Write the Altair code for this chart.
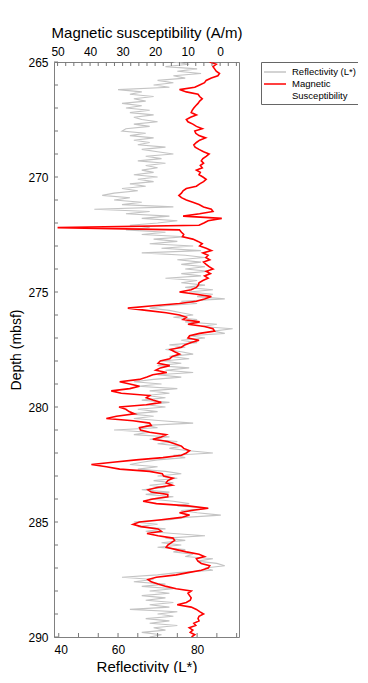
import altair as alt
import pandas as pd

# ---------------- data ----------------
depth_top = 265.0
depth_step = 0.1

# Reflectivity L* every 0.1 m from 265.0 to 290.0
reflectivity = [
    74, 78, 72, 80, 75, 81, 74, 77, 70, 74,   # 265
    69, 73, 60, 66, 63, 69, 64, 67, 61, 66,   # 266
    62, 68, 63, 69, 64, 66, 70, 64, 68, 62,   # 267
    61, 67, 63, 69, 64, 68, 65, 72, 66, 70,   # 268
    74, 67, 71, 65, 72, 67, 70, 66, 69, 64,   # 269
    70, 65, 69, 63, 67, 61, 65, 59, 56, 63,   # 270
    59, 66, 61, 74, 54, 68, 62, 73, 66, 75,   # 271
    70, 63, 68, 62, 72, 66, 77, 69, 75, 68,   # 272
    79, 71, 81, 66, 77, 82, 75, 81, 76, 82,   # 273
    77, 83, 76, 81, 72, 80, 76, 82, 77, 84,   # 274
    78, 84, 80, 87, 76, 80, 72, 68, 73, 76,   # 275
    79, 74, 80, 77, 85, 81, 89, 84, 87, 78,   # 276
    82, 76, 80, 73, 77, 72, 76, 79, 73, 78,   # 277
    71, 76, 70, 78, 72, 79, 70, 76, 69, 64,   # 278
    71, 65, 75, 68, 73, 67, 72, 66, 73, 67,   # 279
    72, 65, 70, 63, 69, 64, 71, 79, 67, 70,   # 280
    59, 68, 64, 73, 68, 75, 70, 76, 73, 78,   # 281
    84, 74, 77, 70, 66, 63, 70, 65, 72, 76,   # 282
    70, 75, 69, 74, 68, 72, 66, 73, 67, 74,   # 283
    68, 74, 78, 75, 83, 76, 80, 86, 77, 73,   # 284
    64, 70, 65, 72, 67, 74, 82, 72, 77, 71,   # 285
    76, 70, 77, 74, 79, 77, 84, 80, 85, 87,   # 286
    82, 84, 75, 70, 61, 69, 64, 72, 66, 74,   # 287
    68, 73, 66, 72, 67, 74, 68, 73, 63, 75,   # 288
    70, 74, 67, 73, 68, 75, 69, 72, 66, 71,   # 289
    68,                                       # 290
]

# Magnetic susceptibility (A/m) every 0.1 m from 265.0 to 290.0
mag_susceptibility = [
    3.2, 1.2, 2.2, 1.7, 1.2, 0.2, 0.7, 2.7, 4.3, 4.8,          # 265
    6.3, 7.8, 12.5, 10.4, 6.8, 6.3, 5.5, 6.3, 6.8, 7.5,        # 266
    8.1, 8.6, 8.9, 7.3, 9.1, 10.4, 9.9, 8.4, 7.3, 5.5,         # 267
    7.8, 7.5, 6.5, 4.5, 6.3, 7.3, 8.1, 7.7, 6.5, 5.1,          # 268
    3.4, 4.3, 5.3, 5.8, 5.1, 6.1, 5.5, 7.3, 6.1, 6.5,          # 269
    5.3, 4.3, 5.1, 6.3, 7.3, 10.4, 11.4, 11.9, 12.7, 11.9,     # 270
    10.4, 8.4, 6.5, 5.1, 2.7, 2.2, 6.3, 11.4, -0.5, 3.7,       # 271
    5.0, 6.5, 50.0, 12.5, 11.9, 11.2, 11.6, 8.4, 6.8, 5.5,     # 272
    6.3, 4.3, 2.7, 5.3, 3.7, 4.4, 3.2, 5.1, 4.3, 3.4,          # 273
    2.2, 4.3, 3.0, 4.8, 3.7, 5.3, 6.5, 6.7, 7.3, 8.9,          # 274
    12.5, 7.3, 2.7, 4.8, 7.3, 12.5, 20.7, 28.4, 22.7, 16.6,    # 275
    12.5, 10.4, 11.4, 6.3, 9.9, 4.8, 2.2, 1.7, 6.3, 9.4,       # 276
    9.9, 6.5, 8.9, 10.9, 11.9, 15.3, 14.0, 12.5, 14.7, 15.5,   # 277
    18.4, 19.1, 15.5, 18.4, 19.8, 16.4, 20.7, 22.5, 24.8, 30.9,  # 278
    27.8, 24.8, 27.8, 33.5, 30.4, 21.7, 22.7, 20.7, 18.1, 22.7,  # 279
    31.1, 29.0, 28.0, 26.3, 31.9, 35.0, 26.8, 21.7, 21.2, 24.8,  # 280
    24.5, 21.7, 16.6, 18.1, 20.7, 16.1, 14.0, 11.9, 11.2, 9.4,   # 281
    10.4, 11.9, 17.6, 25.8, 33.0, 39.6, 35.0, 30.9, 21.7, 17.8,  # 282
    17.4, 14.5, 16.1, 16.6, 14.7, 19.4, 22.2, 21.2, 16.1, 16.1,  # 283
    20.7, 23.7, 19.6, 9.9, 3.7, 8.9, 12.5, 9.4, 11.9, 18.1,      # 284
    24.8, 26.8, 24.3, 19.1, 18.1, 22.5, 19.1, 14.5, 14.0, 15.0,  # 285
    16.1, 16.6, 13.5, 10.4, 6.5, 4.8, 7.3, 6.8, 5.8, 3.2,        # 286
    3.7, 5.8, 9.9, 13.5, 19.6, 22.2, 21.2, 19.1, 16.6, 13.5,     # 287
    8.9, 9.9, 9.4, 8.9, 9.2, 10.4, 13.2, 8.9, 7.3, 6.3,          # 288
    5.1, 6.5, 6.8, 6.5, 8.1, 7.5, 9.5, 8.4, 9.2, 7.8,            # 289
    8.8,                                                          # 290
]

depth_domain = [265, 290]
depth_labels = [265, 270, 275, 280, 285, 290]
depth_ticks = list(range(265, 291))
refl_domain = [43.8, 90.6]
refl_labels = [43.8, 60, 80]
refl_ticks = [45, 50, 55, 60, 65, 70, 75, 80, 85, 90]
ms_domain = [-5.8, 51.1]
ms_labels = [50, 40, 30, 20, 10, 0]
ms_ticks = [50, 47.5, 45, 42.5, 40, 37.5, 35, 32.5, 30, 27.5, 25, 22.5, 20,
            17.5, 15, 12.5, 10, 7.5, 5, 2.5, 0, -2.5, -5]

REFL = "Reflectivity (L*)"
MS = "Magnetic Susceptibility"

# ---------------- chart ----------------
FONT = "Liberation Sans"
W, H = 185, 575
TICK_COLOR = "#777777"
TL = 4

n = len(reflectivity)
depth = [round(depth_top + i * depth_step, 2) for i in range(n)]
df_refl = pd.DataFrame({"depth": depth, "refl": reflectivity, "series": REFL})
df_ms = pd.DataFrame({"depth": depth[:len(mag_susceptibility)],
                      "ms": mag_susceptibility, "series": MS})

y_scale = alt.Scale(domain=depth_domain, reverse=True, nice=False, zero=False)
refl_scale = alt.Scale(domain=refl_domain, nice=False, zero=False)
ms_scale = alt.Scale(domain=ms_domain, reverse=True, nice=False, zero=False)
color_scale = alt.Scale(domain=[REFL, MS], range=["#c4c4c4", "#ff0000"])

common_axis = dict(domain=False, ticks=False, grid=False, labelFont=FONT,
                   titleFont=FONT, labelColor="black", titleColor="black",
                   titleFontWeight="normal")

y_enc = alt.Y("depth:Q", scale=y_scale,
              axis=alt.Axis(values=depth_labels, title="Depth (mbsf)",
                            labelFontSize=12, titleFontSize=14, labelPadding=6,
                            titlePadding=4, labelFlush=False, **common_axis))

legend = alt.Legend(
    title=None, orient="right", offset=22, padding=4, strokeColor="#666666",
    fillColor="white", symbolType="M-2.2,0H2.2", symbolSize=100,
    symbolOffset=4, symbolStrokeWidth=1.5, labelFont=FONT, labelFontSize=9.5,
    labelColor="black", labelOffset=11, rowPadding=1, labelLimit=200,
    labelExpr="datum.label == 'Magnetic Susceptibility' ? ['Magnetic', 'Susceptibility'] : datum.label",
)

gray = alt.Chart(df_refl).mark_line(strokeWidth=1.1, clip=True).encode(
    x=alt.X("refl:Q", scale=refl_scale,
            axis=alt.Axis(orient="bottom", values=refl_labels,
                          labelExpr="datum.value < 50 ? '40' : datum.label",
                          title="Reflectivity (L*)", labelFontSize=12,
                          titleFontSize=15, labelPadding=7, titlePadding=4,
                          **common_axis)),
    y=y_enc,
    order="depth:Q",
    color=alt.Color("series:N", scale=color_scale, legend=legend),
)

red = alt.Chart(df_ms).mark_line(strokeWidth=1.6, clip=True).encode(
    x=alt.X("ms:Q", scale=ms_scale,
            axis=alt.Axis(orient="top", values=ms_labels,
                          title="Magnetic susceptibility (A/m)",
                          labelFontSize=12, titleFontSize=15, labelPadding=4,
                          titlePadding=5, **common_axis)),
    y=alt.Y("depth:Q", scale=y_scale),
    order="depth:Q",
    color=alt.Color("series:N", scale=color_scale, legend=legend),
)

left_ticks = alt.Chart(pd.DataFrame({"depth": depth_ticks})).mark_rule(
    color=TICK_COLOR, strokeWidth=1).encode(
    y=alt.Y("depth:Q", scale=y_scale),
    x=alt.value(0), x2=alt.value(TL))

bottom_ticks = alt.Chart(pd.DataFrame({"rt": refl_ticks})).mark_rule(
    color=TICK_COLOR, strokeWidth=1).encode(
    x=alt.X("rt:Q", scale=refl_scale, axis=None),
    y=alt.value(H), y2=alt.value(H - TL))

top_ticks = alt.Chart(pd.DataFrame({"mt": ms_ticks})).mark_rule(
    color=TICK_COLOR, strokeWidth=1).encode(
    x=alt.X("mt:Q", scale=ms_scale, axis=None),
    y=alt.value(0), y2=alt.value(TL))

chart = alt.layer(gray, red, left_ticks, bottom_ticks, top_ticks).resolve_scale(
    x="independent"
).properties(
    width=W, height=H,
    autosize=alt.AutoSizeParams(type="none"),
    padding={"left": 46, "top": 54, "right": 119, "bottom": 36},
).configure_view(stroke="#808080", strokeWidth=1)

chart.save("out.html", embed_options={"renderer": "svg", "actions": False})
